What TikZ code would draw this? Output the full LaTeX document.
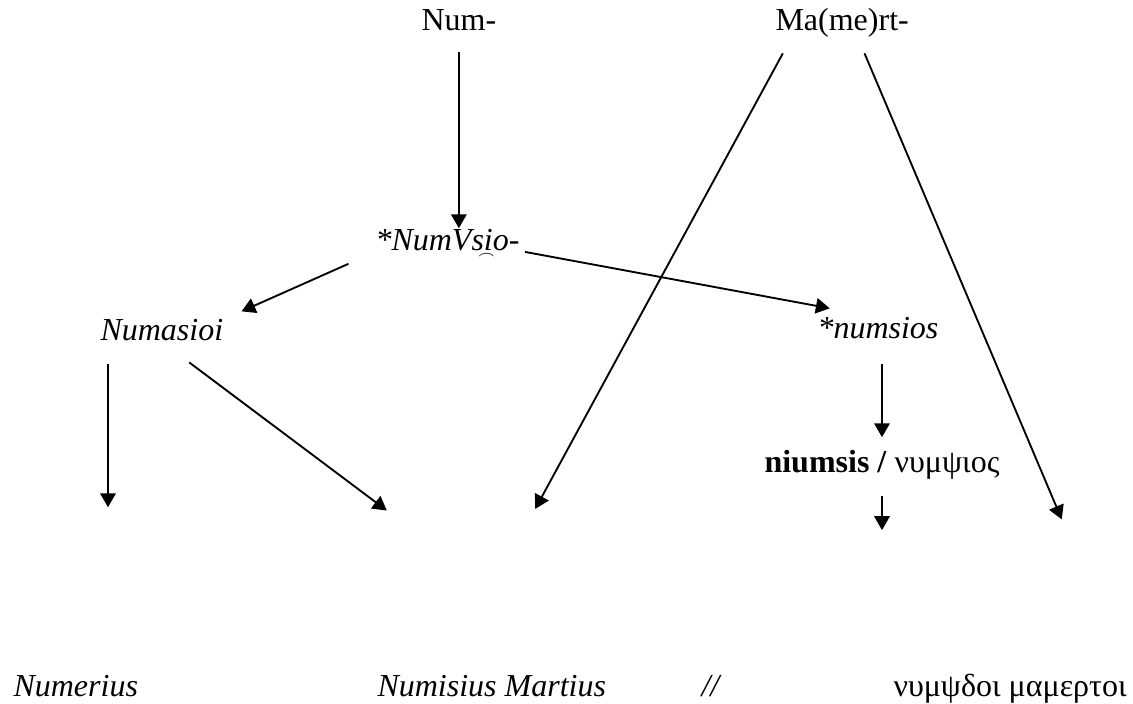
\documentclass[tikz,border=0pt]{standalone}
\usepackage{fontspec}
\setmainfont{Liberation Serif}[ItalicFont={Liberation Serif Italic}, BoldFont={Liberation Serif Bold}]
\usepackage{tikz}
\usetikzlibrary{arrows.meta}
\newcommand{\subarch}[1]{#1\llap{\makebox[0.28em]{\raisebox{-0.5ex}[0pt][0pt]{\tiny$\frown$}}\kern0.06em}}

\begin{document}
\begin{tikzpicture}[x=0.375pt, y=-0.375pt, >={Triangle[length=5.2pt,width=5.8pt]},
  every node/.style={font=\fontsize{12}{14}\selectfont, inner sep=0pt, anchor=base west},
  arr/.style={->, line width=0.7pt},]
\useasboundingbox (0,0) rectangle (1133,704);
\node (1) at (421, 31)  {Num-};
\node (2) at (775, 31)  {Ma(me)rt-};
\node (3) at (375, 251)  {\itshape *NumVs\subarch{i}o-};
\node (4) at (100, 341)  {\itshape Numasioi};
\node (5) at (817, 339)  {\itshape *numsios};
\node (6) at (764, 473)  {\textbf{niumsis /} νυμψιος};
\node (7) at (13, 697)  {\itshape Numerius};
\node (8) at (377, 697)  {\itshape Numisius Martius};
\node (9) at (701, 697)  {\itshape //};
\node (10) at (893, 697)  {νυμψδοι μαμερτοι};
 \draw [arr, shorten <=7.5pt, shorten >=0.4pt] (1.south)--(1.south |- 3.north);
  \draw [arr, shorten <=10.9pt, shorten >=7.3pt] (3.south west)--(4.north east);
  \draw [arr, shorten <=1.9pt, shorten >=18.4pt] (3.base east)--(5.north);
   \draw [arr, shorten <=8.25pt, shorten >=63pt] ([xshift=3pt]4.south west)--([xshift=3pt]4.south west |- 7.north);
   \draw [arr, shorten <=12.8pt, shorten >=103pt] (4.south)--(8.north east);
  \draw [arr, shorten <=6.4pt, shorten >=71pt] ([xshift=6pt]2.south west)--([xshift=-17.6pt]8.north);
  \draw [arr, shorten <=6.1pt, shorten >=63pt] ([xshift=6pt]2.south)--(10.north east);
 \draw [arr, shorten <=9pt, shorten >=4.9pt] (6.north |- 5.south)--(6.north);
 \draw [arr, shorten <=6pt, shorten >=54pt] (6.south)--(6.south |- 10.north);
  \end{tikzpicture}
\end{document}
